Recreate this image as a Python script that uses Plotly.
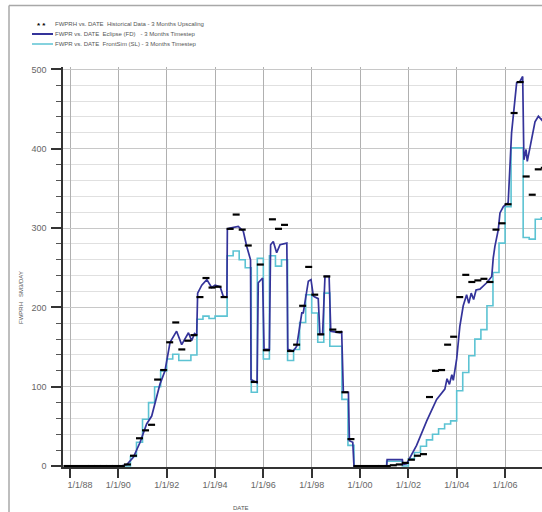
import plotly.graph_objects as go
from datetime import datetime

# ---------------------------------------------------------------------------
# Data (dates as decimal years, rates in SM3/DAY)
# ---------------------------------------------------------------------------
hist_year = [1987.875, 1988.125, 1988.375, 1988.625, 1988.875, 1989.125, 1989.375,
             1989.625, 1989.875, 1990.125, 1990.375, 1990.625, 1990.875, 1991.125,
             1991.375, 1991.625, 1991.875, 1992.125, 1992.375, 1992.625, 1992.875,
             1993.125, 1993.375, 1993.625, 1993.875, 1994.125, 1994.375, 1994.625,
             1994.875, 1995.125, 1995.375, 1995.625, 1995.875, 1996.125, 1996.375,
             1996.625, 1996.875, 1997.125, 1997.375, 1997.625, 1997.875, 1998.125,
             1998.375, 1998.625, 1998.875, 1999.125, 1999.375, 1999.625, 1999.875,
             2000.125, 2000.375, 2000.625, 2000.875, 2001.125, 2001.375, 2001.625,
             2001.875, 2002.125, 2002.375, 2002.625, 2002.875, 2003.125, 2003.375,
             2003.625, 2003.875, 2004.125, 2004.375, 2004.625, 2004.875, 2005.125,
             2005.375, 2005.625, 2005.875, 2006.125, 2006.375, 2006.625, 2006.875,
             2007.125, 2007.375, 2007.625]
hist_rate = [0, 0, 0, 0, 0, 0, 0,
             0, 0, 0, 2, 13, 35, 45,
             52, 109, 121, 156, 181, 147, 158,
             165, 213, 237, 225, 226, 213, 299,
             317, 298, 278, 106, 254, 146, 311,
             299, 304, 145, 153, 202, 251, 216,
             166, 239, 172, 169, 93, 34, 0,
             0, 0, 0, 0, 0, 1, 2,
             4, 8, 13, 15, 87, 120, 121,
             153, 163, 213, 241, 232, 234, 236,
             232, 298, 306, 330, 445, 484, 365,
             342, 374, 376]

fd_year = [1987.75, 1990.1, 1990.35, 1990.62, 1990.9, 1991.17, 1991.38, 1991.59,
           1991.72, 1991.93, 1992.14, 1992.41, 1992.62, 1992.9, 1993.03, 1993.15,
           1993.24, 1993.28, 1993.45, 1993.66, 1993.86, 1994.0, 1994.21, 1994.34,
           1994.49, 1994.51, 1994.62, 1994.96, 1995.17, 1995.31, 1995.47, 1995.49,
           1995.74, 1995.79, 1995.97, 1996.03, 1996.25, 1996.3, 1996.41, 1996.55,
           1996.69, 1996.97, 1997.01, 1997.24, 1997.38, 1997.59, 1997.65, 1997.86,
           1997.97, 1998.07, 1998.27, 1998.34, 1998.45, 1998.55, 1998.72, 1998.79,
           1999.17, 1999.24, 1999.31, 1999.52, 1999.56, 1999.7, 1999.75, 2001.1,
           2001.12, 2001.75, 2001.77, 2001.93, 2002.34, 2002.76, 2003.17, 2003.51,
           2003.6, 2003.7, 2003.8, 2003.86, 2004.0, 2004.13, 2004.27, 2004.41,
           2004.5, 2004.6, 2004.7, 2004.8, 2004.96, 2005.24, 2005.45, 2005.51,
           2005.58, 2005.72, 2005.79, 2005.93, 2006.13, 2006.27, 2006.34, 2006.48,
           2006.62, 2006.73, 2006.78, 2006.87, 2006.92, 2007.03, 2007.24, 2007.38,
           2007.52, 2007.6]
fd_rate = [0, 0, 2, 11, 30, 53, 63, 88,
           103, 120, 156, 170, 153, 168, 158, 167,
           165, 218, 228, 235, 225, 228, 226, 214,
           213, 299, 300, 302, 296, 277, 260, 109,
           105, 231, 237, 147, 147, 279, 283, 269,
           279, 281, 147, 145, 151, 193, 193, 233,
           235, 214, 211, 166, 166, 239, 239, 170,
           168, 170, 93, 93, 32, 30, 0, 0,
           8, 8, 2, 3, 26, 57, 84, 97,
           110, 103, 115, 108, 135, 176, 202, 216,
           205, 218, 210, 222, 223, 231, 239, 262,
           277, 298, 319, 327, 332, 420, 441, 483,
           485, 491, 386, 399, 384, 401, 434, 441,
           436, 440]

sl_year = [1987.75, 1990.5, 1990.75, 1991.0, 1991.25, 1991.5, 1991.75, 1992.0,
           1992.25, 1992.5, 1992.75, 1993.0, 1993.25, 1993.5, 1993.75, 1994.0,
           1994.25, 1994.5, 1994.75, 1995.0, 1995.25, 1995.5, 1995.75, 1996.0,
           1996.25, 1996.5, 1996.75, 1997.0, 1997.25, 1997.5, 1997.75, 1998.0,
           1998.25, 1998.5, 1998.75, 1999.0, 1999.25, 1999.5, 1999.75, 2001.1,
           2001.75, 2002.0, 2002.25, 2002.5, 2002.75, 2003.0, 2003.25, 2003.5,
           2003.75, 2004.0, 2004.25, 2004.5, 2004.75, 2005.0, 2005.25, 2005.5,
           2005.75, 2006.0, 2006.25, 2006.5, 2006.75, 2007.0, 2007.25, 2007.5,
           2007.75]
sl_rate = [0, 12, 30, 59, 80, 100, 120, 135,
           141, 133, 133, 140, 185, 189, 186, 189,
           189, 265, 271, 260, 250, 93, 262, 135,
           265, 252, 260, 133, 147, 181, 216, 193,
           156, 218, 151, 151, 84, 26, 0, 6,
           0, 9, 17, 25, 33, 40, 47, 53,
           57, 95, 118, 139, 160, 172, 202, 244,
           281, 327, 401, 401, 288, 286, 311, 313,
           313]

x_tick_years = [1988, 1990, 1992, 1994, 1996, 1998, 2000, 2002, 2004, 2006]
x_tick_text = ["\u00a0" * 8 + "1/1/88", "1/1/90", "1/1/92", "1/1/94", "1/1/96",
               "1/1/98", "1/1/00", "1/1/02", "1/1/04", "1/1/06"]

legend_labels = [
    "FWPRH vs. DATE  Historical Data - 3 Months Upscaling",
    "FWPR vs. DATE  Eclipse (FD)   - 3 Months Timestep",
    "FWPR vs. DATE  FrontSim (SL) - 3 Months Timestep",
]

FD_COLOR = "#34339a"
SL_COLOR = "#5cc3d3"
FONT = "Liberation Sans, Arial, sans-serif"


def to_date(y):
    year = int(y)
    start = datetime(year, 1, 1)
    end = datetime(year + 1, 1, 1)
    return start + (end - start) * (y - year)


# plot-area geometry in pixels, used to place paper-space decorations
W, H = 542, 512
L, R, T, B = 63, 0, 67, 45
PW, PH = W - L - R, H - T - B


def px(xp):
    return (xp - L) / PW


def py(yp):
    return (H - B - yp) / PH


fig = go.Figure()

fig.add_trace(go.Scatter(
    x=[to_date(v) for v in sl_year], y=sl_rate, mode="lines",
    line=dict(color=SL_COLOR, width=1.6, shape="hv"), showlegend=False))

fig.add_trace(go.Scatter(
    x=[to_date(v) for v in fd_year], y=fd_rate, mode="lines",
    line=dict(color=FD_COLOR, width=1.7), showlegend=False))

fig.add_trace(go.Scatter(
    x=[to_date(v) for v in hist_year], y=hist_rate, mode="markers",
    marker=dict(symbol="line-ew", size=5, color="black",
                line=dict(color="black", width=2.2)),
    showlegend=False))

annotations = []
shapes = []

# legend
legend_y = [24, 34, 44]
for lab, yy in zip(legend_labels, legend_y):
    annotations.append(dict(
        text=lab, xref="paper", yref="paper", x=px(53), y=py(yy),
        xanchor="left", yanchor="middle", showarrow=False,
        font=dict(family=FONT, size=6, color="#555")))
annotations.append(dict(
    text="<b>* *</b>", xref="paper", yref="paper", x=px(41), y=py(25),
    xanchor="center", yanchor="middle", showarrow=False,
    font=dict(family=FONT, size=8, color="black")))
shapes.append(dict(type="line", xref="paper", yref="paper",
                   x0=px(32), x1=px(53), y0=py(34), y1=py(34),
                   line=dict(color=FD_COLOR, width=2)))
shapes.append(dict(type="line", xref="paper", yref="paper",
                   x0=px(32), x1=px(53), y0=py(44), y1=py(44),
                   line=dict(color=SL_COLOR, width=1.5)))

# outer frame (top and left edges)
shapes.append(dict(type="line", xref="paper", yref="paper",
                   x0=px(9), x1=px(9), y0=py(5.5), y1=py(H),
                   line=dict(color="#a8a8a8", width=1.5)))
shapes.append(dict(type="line", xref="paper", yref="paper",
                   x0=px(9), x1=px(W), y0=py(5.5), y1=py(5.5),
                   line=dict(color="#a8a8a8", width=1.5)))

# axis titles
annotations.append(dict(
    text="FWPRH   SM3/DAY", xref="paper", yref="paper", x=px(21), y=py(298),
    xanchor="center", yanchor="middle", textangle=-90, showarrow=False,
    font=dict(family=FONT, size=6, color="#555")))
annotations.append(dict(
    text="DATE", xref="paper", yref="paper", x=px(241), y=py(508),
    xanchor="center", yanchor="middle", showarrow=False,
    font=dict(family=FONT, size=6, color="#555")))

fig.update_layout(
    width=W, height=H,
    margin=dict(l=L, r=R, t=T, b=B),
    paper_bgcolor="white", plot_bgcolor="white",
    showlegend=False,
    annotations=annotations, shapes=shapes,
    xaxis=dict(
        type="date",
        range=[to_date(1987.71), to_date(2007.53)],
        tickmode="array",
        tickvals=[datetime(y, 1, 1) for y in x_tick_years],
        ticktext=x_tick_text,
        ticks="outside", ticklen=9, tickwidth=1.5, tickcolor="#333",
        showgrid=True, gridcolor="#b0b0b0", gridwidth=1,
        showline=True, linecolor="#333", linewidth=1.5,
        zeroline=False,
        ticklabelstandoff=-1,
        tickfont=dict(family=FONT, size=9, color="#666"),
    ),
    yaxis=dict(
        range=[-1.2, 503],
        tick0=0, dtick=100,
        ticks="outside", ticklen=10, tickwidth=1.8, tickcolor="#333",
        showgrid=True, gridcolor="#c8c8c8", gridwidth=1,
        showline=True, linecolor="#333", linewidth=1.5,
        zeroline=False,
        ticklabelstandoff=3,
        tickfont=dict(family=FONT, size=9, color="#666"),
        minor=dict(dtick=20, tick0=0, ticks="outside", ticklen=5,
                   tickcolor="#555", tickwidth=1,
                   showgrid=True, gridcolor="#e0e0e0", gridwidth=1),
    ),
)

fig.write_html("out.html")
